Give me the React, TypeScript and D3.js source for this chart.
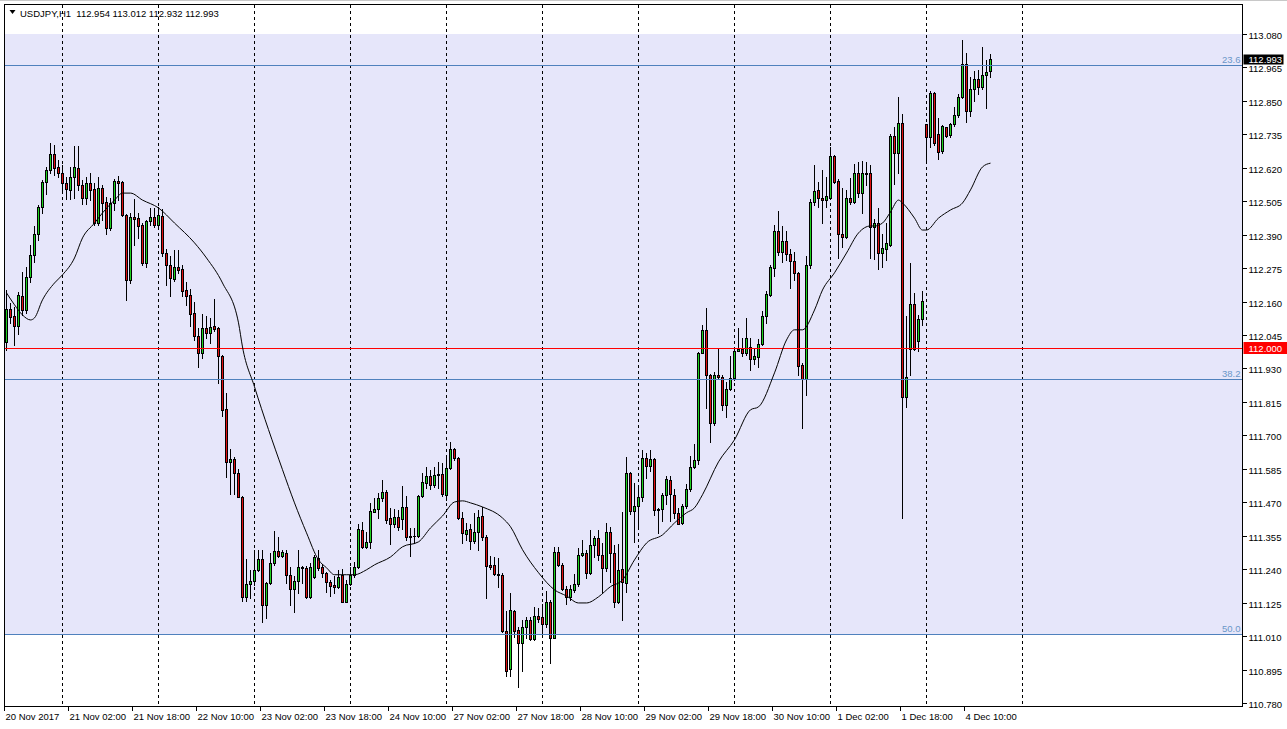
import React from 'react';
import * as d3 from 'd3';

const W = 1287;
const H = 729;

// OHLC hourly bars, USDJPY H1 (bar 0 = 20 Nov 2017 10:00)
const openP = [
  112.021,112.134,112.110,112.076,112.180,112.131,112.245,112.320,112.392,112.485,
  112.571,112.612,112.667,112.623,112.602,112.568,112.544,112.588,112.619,112.561,
  112.516,112.568,112.547,112.430,112.551,112.502,112.413,112.499,112.575,112.571,
  112.458,112.235,112.451,112.447,112.423,112.293,112.437,112.451,112.423,112.454,
  112.327,112.286,112.238,112.279,112.272,112.200,112.183,112.121,112.042,111.984,
  112.070,112.052,112.076,112.070,111.974,111.791,111.609,111.619,111.571,111.489,
  111.145,111.190,111.200,111.238,111.276,111.117,111.193,111.262,111.303,111.286,
  111.296,111.221,111.173,111.200,111.248,111.245,111.145,111.214,111.279,111.248,
  111.228,111.197,111.186,111.180,111.221,111.128,111.190,111.221,111.248,111.375,
  111.317,111.334,111.437,111.447,111.485,111.506,111.416,111.396,111.420,111.413,
  111.454,111.351,111.355,111.353,111.492,111.537,111.561,111.530,111.564,111.568,
  111.496,111.588,111.654,111.623,111.416,111.362,111.379,111.338,111.368,111.423,
  111.351,111.255,111.255,111.224,111.221,111.028,110.898,111.097,111.032,110.987,
  111.042,111.066,111.001,111.080,111.076,111.052,111.128,111.004,111.300,111.255,
  111.173,111.145,111.169,111.190,111.289,111.296,111.228,111.324,111.348,111.289,
  111.245,111.368,111.296,111.128,111.241,111.193,111.571,111.441,111.458,111.489,
  111.623,111.595,111.619,111.447,111.447,111.496,111.547,111.496,111.434,111.399,
  111.458,111.516,111.592,111.616,111.984,112.063,111.908,111.743,111.908,111.901,
  111.805,111.860,111.898,111.991,111.997,111.984,112.004,111.963,111.970,112.014,
  112.111,112.183,112.276,112.403,112.331,112.368,112.324,112.300,112.259,111.942,
  111.894,112.286,112.502,112.544,112.516,112.509,112.516,112.661,112.575,112.392,
  112.382,112.516,112.502,112.602,112.533,112.602,112.602,112.416,112.430,112.327,
  112.341,112.355,112.729,112.671,112.774,111.832,111.997,112.152,112.025,112.101,
  112.771,112.726,112.877,112.736,112.678,112.760,112.733,112.771,112.802,112.863,
  112.977,112.815,112.891,112.925,112.898,112.939,112.954,
];
const highP = [
  112.200,112.156,112.142,112.193,112.262,112.279,112.355,112.420,112.492,112.578,
  112.623,112.705,112.698,112.647,112.630,112.588,112.623,112.695,112.695,112.578,
  112.588,112.602,112.568,112.588,112.561,112.520,112.516,112.581,112.592,112.575,
  112.460,112.465,112.513,112.465,112.430,112.441,112.482,112.482,112.485,112.478,
  112.341,112.317,112.338,112.338,112.286,112.228,112.204,112.159,112.070,112.118,
  112.111,112.104,112.169,112.073,111.977,111.846,111.653,111.626,111.585,111.492,
  111.276,111.238,111.307,111.307,111.307,111.197,111.296,111.372,111.351,111.307,
  111.307,111.248,111.217,111.307,111.250,111.250,111.262,111.290,111.307,111.259,
  111.231,111.203,111.217,111.238,111.241,111.203,111.248,111.265,111.396,111.403,
  111.368,111.468,111.485,111.502,111.547,111.513,111.451,111.447,111.444,111.526,
  111.492,111.382,111.382,111.496,111.571,111.592,111.582,111.592,111.609,111.605,
  111.623,111.678,111.657,111.626,111.437,111.399,111.396,111.434,111.444,111.454,
  111.358,111.286,111.283,111.279,111.228,111.097,111.159,111.100,111.042,111.066,
  111.076,111.076,111.111,111.107,111.121,111.166,111.135,111.317,111.317,111.262,
  111.183,111.186,111.224,111.313,111.341,111.307,111.375,111.355,111.375,111.330,
  111.399,111.386,111.324,111.327,111.437,111.626,111.575,111.537,111.520,111.650,
  111.640,111.650,111.623,111.451,111.502,111.561,111.561,111.516,111.451,111.465,
  111.534,111.630,111.671,111.987,112.080,112.138,111.911,111.918,111.997,111.908,
  111.884,111.974,111.997,112.070,112.035,112.104,112.035,111.997,112.031,112.128,
  112.197,112.286,112.423,112.471,112.420,112.403,112.341,112.331,112.262,111.949,
  112.317,112.513,112.630,112.571,112.612,112.588,112.692,112.664,112.581,112.551,
  112.544,112.585,112.633,112.640,112.643,112.640,112.630,112.444,112.482,112.392,
  112.430,112.736,112.760,112.863,112.805,112.111,112.293,112.190,112.114,112.197,
  112.771,112.884,112.881,112.791,112.767,112.760,112.774,112.829,112.874,113.060,
  113.015,112.932,112.953,112.956,113.036,112.991,113.012,
];
const lowP = [
  111.994,112.087,112.011,112.049,112.114,112.121,112.228,112.297,112.372,112.465,
  112.530,112.602,112.595,112.588,112.544,112.513,112.513,112.516,112.544,112.495,
  112.495,112.509,112.423,112.423,112.441,112.392,112.406,112.475,112.509,112.454,
  112.166,112.224,112.355,112.379,112.286,112.279,112.423,112.416,112.416,112.317,
  112.217,112.179,112.231,112.259,112.179,112.149,112.076,112.028,111.936,111.967,
  112.035,112.018,112.059,111.881,111.767,111.558,111.499,111.499,111.487,111.131,
  111.131,111.142,111.186,111.235,111.059,111.073,111.190,111.255,111.283,111.283,
  111.193,111.117,111.093,111.159,111.193,111.142,111.142,111.211,111.238,111.214,
  111.162,111.149,111.159,111.176,111.128,111.128,111.186,111.214,111.245,111.314,
  111.314,111.314,111.437,111.416,111.475,111.399,111.327,111.386,111.375,111.379,
  111.341,111.286,111.331,111.351,111.489,111.520,111.516,111.523,111.520,111.492,
  111.478,111.585,111.616,111.413,111.331,111.341,111.310,111.331,111.307,111.341,
  111.142,111.241,111.221,111.180,111.025,110.874,110.874,111.008,110.836,110.891,
  111.004,110.997,110.997,111.059,111.014,111.042,110.918,111.004,111.252,111.169,
  111.121,111.135,111.162,111.183,111.286,111.211,111.224,111.283,111.272,111.159,
  111.235,111.197,111.111,111.125,111.066,111.162,111.430,111.334,111.389,111.475,
  111.554,111.578,111.427,111.365,111.406,111.465,111.406,111.416,111.396,111.396,
  111.451,111.509,111.588,111.602,111.984,111.795,111.678,111.736,111.898,111.788,
  111.764,111.857,111.891,111.991,111.974,111.977,111.925,111.946,111.936,112.011,
  112.087,112.179,112.248,112.320,112.297,112.303,112.207,112.235,111.908,111.726,
  111.839,112.276,112.492,112.485,112.430,112.485,112.513,112.568,112.310,112.348,
  112.379,112.495,112.499,112.520,112.465,112.560,112.310,112.307,112.272,112.279,
  112.303,112.352,112.565,112.602,111.416,111.798,111.908,111.994,111.991,112.080,
  112.636,112.692,112.698,112.650,112.671,112.726,112.726,112.764,112.795,112.860,
  112.778,112.798,112.850,112.874,112.891,112.826,112.932,
];
const closeP = [
  112.134,112.107,112.076,112.183,112.131,112.245,112.320,112.392,112.485,112.571,
  112.612,112.667,112.619,112.602,112.568,112.547,112.588,112.623,112.561,112.516,
  112.568,112.544,112.430,112.551,112.499,112.413,112.499,112.575,112.568,112.458,
  112.235,112.451,112.444,112.420,112.293,112.437,112.451,112.423,112.458,112.327,
  112.286,112.242,112.279,112.269,112.197,112.179,112.118,112.042,111.984,112.070,
  112.052,112.073,112.066,111.974,111.788,111.609,111.619,111.571,111.489,111.145,
  111.190,111.200,111.238,111.276,111.117,111.193,111.262,111.303,111.286,111.300,
  111.221,111.173,111.200,111.248,111.245,111.145,111.248,111.283,111.245,111.228,
  111.197,111.183,111.180,111.214,111.128,111.190,111.221,111.248,111.379,111.317,
  111.334,111.441,111.447,111.485,111.506,111.410,111.396,111.420,111.386,111.454,
  111.351,111.355,111.353,111.492,111.540,111.561,111.530,111.564,111.566,111.499,
  111.588,111.654,111.623,111.416,111.365,111.375,111.338,111.368,111.420,111.351,
  111.252,111.248,111.224,111.221,111.028,110.891,111.100,111.028,110.987,111.042,
  111.066,111.001,111.080,111.069,111.052,111.128,111.004,111.300,111.255,111.173,
  111.145,111.173,111.190,111.289,111.296,111.228,111.324,111.348,111.289,111.245,
  111.368,111.296,111.128,111.238,111.197,111.571,111.441,111.458,111.489,111.623,
  111.595,111.619,111.444,111.444,111.496,111.550,111.499,111.434,111.396,111.458,
  111.516,111.592,111.616,111.984,112.063,111.908,111.743,111.908,111.901,111.805,
  111.860,111.898,111.991,111.997,111.984,112.035,111.963,111.973,112.014,112.111,
  112.186,112.279,112.403,112.331,112.368,112.324,112.300,112.259,111.939,111.894,
  112.286,112.502,112.540,112.516,112.509,112.523,112.661,112.571,112.392,112.382,
  112.516,112.502,112.602,112.533,112.602,112.598,112.416,112.430,112.327,112.344,
  112.361,112.729,112.671,112.774,111.832,111.901,112.152,111.997,112.101,112.162,
  112.726,112.877,112.705,112.674,112.764,112.729,112.771,112.802,112.863,112.977,
  112.815,112.891,112.925,112.898,112.939,112.949,112.993,
];

// Moving average, read at sampled bars
const maIdx = [0,2,4,6,7,9,12,14,17,19,22,24,27,29,31,34,38,42,47,50,54,58,59,62,69,72,75,78,80,82,85,87,90,92,96,99,103,106,109,112,114,116,119,124,126,129,133,137,140,143,145,148,151,154,157,160,164,167,170,172,174,178,182,186,188,192,195,197,199,202,204,207,210,213,216,217,219,221,223,224,227,229,230,233,236,239,241,244,246];
const maVal = [112.190,112.149,112.114,112.097,112.104,112.166,112.224,112.252,112.310,112.379,112.430,112.465,112.509,112.533,112.533,112.509,112.482,112.430,112.362,112.310,112.224,112.087,112.004,111.867,111.582,111.468,111.365,111.272,111.245,111.221,111.221,111.221,111.238,111.255,111.282,111.317,111.334,111.382,111.423,111.471,111.475,111.468,111.454,111.416,111.386,111.307,111.228,111.169,111.148,111.124,111.124,111.145,111.180,111.203,111.272,111.330,111.358,111.399,111.434,111.451,111.496,111.609,111.685,111.788,111.798,111.915,112.028,112.063,112.063,112.131,112.200,112.259,112.327,112.396,112.420,112.420,112.430,112.468,112.509,112.499,112.447,112.406,112.406,112.447,112.475,112.499,112.544,112.623,112.636];

// Time axis labels (bar index, text)
const timeLabelIdx = [0,16,32,48,64,80,96,112,128,144,160,176,192,208,224,240];
const timeLabels = ['20 Nov 2017','21 Nov 02:00','21 Nov 18:00','22 Nov 10:00','23 Nov 02:00','23 Nov 18:00','24 Nov 10:00','27 Nov 02:00','27 Nov 18:00','28 Nov 10:00','29 Nov 02:00','29 Nov 18:00','30 Nov 10:00','1 Dec 02:00','1 Dec 18:00','4 Dec 10:00'];
// Day separators (midnight bars)
const gridIdx = [14,38,62,86,110,134,158,182,206,230,254];

const priceTicks = ['113.080','112.965','112.850','112.735','112.620','112.505','112.390','112.275','112.160','112.045','111.930','111.815','111.700','111.585','111.470','111.355','111.240','111.125','111.010','110.895','110.780'];

const fibLevels = [
  { label: '23.6', price: 112.973 },
  { label: '38.2', price: 111.894 },
  { label: '50.0', price: 111.017 },
];
const bandTop = 113.08;
const bandBottom = 111.017;
const hLine = 112.0;
const lastPrice = 112.993;
const header = 'USDJPY,H1  112.954 113.012 112.932 112.993';

const PL = 4.5, PT = 4.5, PR = 1242.5, PB = 706.5;
const x = d3.scaleLinear().domain([0, 246]).range([6, 990]);
const y = d3.scaleLinear().domain([110.78, 113.08]).range([703, 34]);

const BULL = '#1ed21e';
const BEAR = '#e01010';
const FIB = '#4f81bd';
const FONT = "'Liberation Sans', Arial, sans-serif";

export default function App() {
  const candles = openP.map((o, i) => ({ i, o, h: highP[i], l: lowP[i], c: closeP[i] }));
  const maLine = d3
    .line<number>()
    .x((_, k) => x(maIdx[k]) + 0.5)
    .y((v) => y(v))
    .curve(d3.curveMonotoneX);

  return (
    <svg
      width={W}
      height={H}
      style={{ position: 'absolute', left: 0, top: 0, display: 'block', background: '#fff' }}
      fontFamily={FONT}
    >
      <rect x={0} y={0} width={W} height={H} fill="#fff" />
      <line x1={0} x2={W} y1={0.5} y2={0.5} stroke="#c8c8c8" />

      {/* fib band */}
      <rect
        x={PL + 0.5}
        y={y(bandTop)}
        width={PR - PL - 1}
        height={y(bandBottom) - y(bandTop)}
        fill="#e6e6fa"
      />

      {/* day separators */}
      {gridIdx.map((g) => (
        <line
          key={'g' + g}
          x1={Math.round(x(g)) + 0.5}
          x2={Math.round(x(g)) + 0.5}
          y1={PT + 0.5}
          y2={PB}
          stroke="#000"
          strokeDasharray="3,3"
          shapeRendering="crispEdges"
        />
      ))}

      {/* candles */}
      <g shapeRendering="crispEdges">
        {candles.map((d) => {
          const cx = Math.round(x(d.i));
          const yh = Math.round(y(d.h));
          const yl = Math.round(y(d.l));
          const yt = Math.round(y(Math.max(d.o, d.c)));
          const yb = Math.round(y(Math.min(d.o, d.c)));
          const up = d.c >= d.o;
          return (
            <g key={d.i}>
              <rect x={cx} y={yh} width={1} height={Math.max(1, yl - yh + 1)} fill="#000" />
              <rect x={cx - 1} y={yt} width={3} height={Math.max(1, yb - yt + 1)} fill="#000" />
              {yb - yt >= 2 && (
                <rect x={cx} y={yt + 1} width={1} height={yb - yt - 1} fill={up ? BULL : BEAR} />
              )}
            </g>
          );
        })}
      </g>

      {/* fib lines */}
      {fibLevels.map((f) => (
        <g key={f.label}>
          <line
            x1={PL}
            x2={PR}
            y1={Math.round(y(f.price)) + 0.5}
            y2={Math.round(y(f.price)) + 0.5}
            stroke={FIB}
            shapeRendering="crispEdges"
          />
          <text
            x={PR - 2}
            y={Math.round(y(f.price)) - 2}
            textAnchor="end"
            fontSize={9.5}
            fill="#6a96c8"
          >
            {f.label}
          </text>
        </g>
      ))}

      {/* horizontal 112.000 line */}
      <line
        x1={PL}
        x2={PR}
        y1={Math.round(y(hLine)) + 0.5}
        y2={Math.round(y(hLine)) + 0.5}
        stroke="#ff0000"
        shapeRendering="crispEdges"
      />

      {/* moving average */}
      <path d={maLine(maVal) || ''} fill="none" stroke="#000" strokeWidth={1} />

      {/* frame */}
      <rect
        x={PL}
        y={PT}
        width={PR - PL}
        height={PB - PT}
        fill="none"
        stroke="#000"
        shapeRendering="crispEdges"
      />

      {/* price axis */}
      {priceTicks.map((t) => {
        const yy = Math.round(y(+t)) + 0.5;
        return (
          <g key={t}>
            <line x1={PR} x2={PR + 4} y1={yy} y2={yy} stroke="#000" shapeRendering="crispEdges" />
            <text x={PR + 6} y={yy + 0.5} dominantBaseline="central" fontSize={9.5} fill="#000">
              {t}
            </text>
          </g>
        );
      })}

      {/* last price label */}
      <rect x={PR + 1} y={Math.round(y(lastPrice)) - 4.5} width={40} height={10} fill="#000" />
      <text
        x={PR + 6}
        y={Math.round(y(lastPrice)) + 0.5}
        dominantBaseline="central"
        fontSize={9.5}
        fill="#fff"
      >
        {lastPrice.toFixed(3)}
      </text>

      {/* 112.000 label */}
      <rect x={PR + 1} y={Math.round(y(hLine)) - 6} width={W - PR - 1} height={12} fill="#ff0000" />
      <text
        x={PR + 6}
        y={Math.round(y(hLine)) + 0.5}
        dominantBaseline="central"
        fontSize={9.5}
        fill="#fff"
      >
        {hLine.toFixed(3)}
      </text>

      {/* time axis */}
      {timeLabelIdx.map((idx, k) => {
        const xx = Math.round(x(idx)) + 0.5;
        return (
          <g key={'t' + idx}>
            <line x1={xx - 2} x2={xx - 2} y1={PB} y2={PB + 4} stroke="#000" shapeRendering="crispEdges" />
            <text x={xx - 1} y={720} fontSize={9.5} fill="#000">
              {timeLabels[k]}
            </text>
          </g>
        );
      })}

      {/* header */}
      <path d="M9.5,10 L15.5,10 L12.5,14 Z" fill="#000" />
      <text x={20} y={16.5} fontSize={9.5} fill="#000" style={{ whiteSpace: 'pre' }}>
        {header}
      </text>
    </svg>
  );
}
